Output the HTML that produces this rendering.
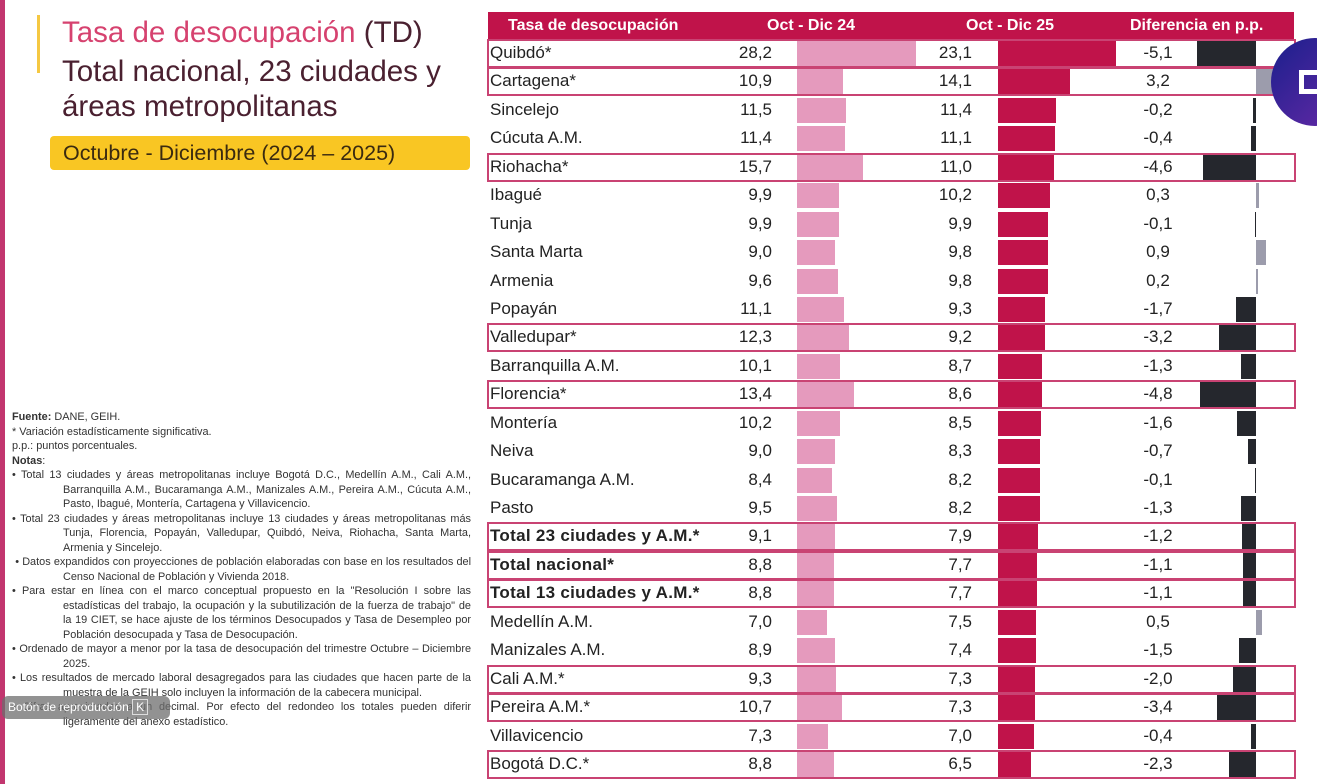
<!DOCTYPE html><html><head><meta charset="utf-8"><style>
body{margin:0;width:1317px;height:784px;background:#fff;position:relative;overflow:hidden;font-family:"Liberation Sans",sans-serif;color:#222}
.strip{position:absolute;left:0;top:0;width:5px;height:784px;background:#c2366f}
.t{position:absolute;left:62px;font-size:29.5px;color:#4a2030;white-space:nowrap}
.hd{position:absolute;top:12px;left:488px;width:806px;height:27px;background:#c0134a;color:#fff;font-weight:bold;font-size:16px;line-height:27px}
.hd span{position:absolute}
.r{position:absolute;left:0;width:1317px;height:28px;font-size:17px;line-height:28px}
.r span{position:absolute}
.n{left:490px}
.a{right:545px}
.c{right:345px}
.d{left:1120px;width:76px;text-align:center}
.r i{position:absolute;top:2px;height:25px}
.b1{left:797px;background:#e59abd}
.b2{left:998px;background:#c0134a}
.dn{right:61px;background:#25272d}
.dp{left:1256px;background:#9c9cac}
.h::after{content:'';position:absolute;left:487px;top:0;width:809px;height:29px;border:2px solid #c94373;box-sizing:border-box}
.bd .n{font-weight:bold;letter-spacing:0.3px}
.notes{position:absolute;left:12px;top:410px;width:459px;font-size:10.9px;line-height:14.5px;color:#333;text-align:justify}
.notes p{margin:0}
.notes .b{padding-left:51px;text-indent:-51px}
</style></head><body>
<div class="strip"></div>
<div style="position:absolute;left:37px;top:15px;width:3px;height:58px;background:#f5c842"></div>
<div class="t" style="top:16px"><span style="color:#d6426f">Tasa de desocupación</span> (TD)</div>
<div class="t" style="top:55px">Total nacional, 23 ciudades y</div>
<div class="t" style="top:90px">áreas metropolitanas</div>
<div style="position:absolute;left:50px;top:136px;width:420px;height:34px;background:#f9c623;border-radius:4px;font-size:21.5px;line-height:34px;color:#3a2a10;padding-left:13px;box-sizing:border-box">Octubre - Diciembre (2024 – 2025)</div>
<div class="notes">
<p><b>Fuente:</b> DANE, GEIH.</p>
<p>* Variación estadísticamente significativa.</p>
<p>p.p.: puntos porcentuales.</p>
<p><b>Notas</b>:</p>
<p class="b">• Total 13 ciudades y áreas metropolitanas incluye Bogotá D.C., Medellín A.M., Cali A.M., Barranquilla A.M., Bucaramanga A.M., Manizales A.M., Pereira A.M., Cúcuta A.M., Pasto, Ibagué, Montería, Cartagena y Villavicencio.</p>
<p class="b">• Total 23 ciudades y áreas metropolitanas incluye 13 ciudades y áreas metropolitanas más Tunja, Florencia, Popayán, Valledupar, Quibdó, Neiva, Riohacha, Santa Marta, Armenia y Sincelejo.</p>
<p class="b">&nbsp;• Datos expandidos con proyecciones de población elaboradas con base en los resultados del Censo Nacional de Población y Vivienda 2018.</p>
<p class="b">• Para estar en línea con el marco conceptual propuesto en la "Resolución I sobre las estadísticas del trabajo, la ocupación y la subutilización de la fuerza de trabajo" de la 19 CIET, se hace ajuste de los términos Desocupados y Tasa de Desempleo por Población desocupada y Tasa de Desocupación.</p>
<p class="b">• Ordenado de mayor a menor por la tasa de desocupación del trimestre Octubre – Diciembre 2025.</p>
<p class="b">• Los resultados de mercado laboral desagregados para las ciudades que hacen parte de la muestra de la GEIH solo incluyen la información de la cabecera municipal.</p>
<p class="b">• Cifras aproximadas a un decimal. Por efecto del redondeo los totales pueden diferir ligeramente del anexo estadístico.</p>
</div>
<div style="position:absolute;left:2px;top:696px;width:168px;height:23px;background:rgba(110,110,110,0.75);border-radius:6px;color:#fff;font-size:12px;line-height:23px;padding-left:6px;box-sizing:border-box">Botón de reproducción <span style="border:1px solid #ddd;padding:0 3px">K</span></div>
<div class="hd"><span style="left:20px">Tasa de desocupación</span><span style="left:279px">Oct - Dic 24</span><span style="left:478px">Oct - Dic 25</span><span style="left:642px">Diferencia en p.p.</span></div>

<div class="r h" style="top:39px"><span class="n">Quibdó*</span><span class="a">28,2</span><i class="b1" style="width:119px"></i><span class="c">23,1</span><i class="b2" style="width:118px"></i><span class="d">-5,1</span><i class="dn" style="width:59px"></i></div>
<div class="r h" style="top:67px"><span class="n">Cartagena*</span><span class="a">10,9</span><i class="b1" style="width:46px"></i><span class="c">14,1</span><i class="b2" style="width:72px"></i><span class="d">3,2</span><i class="dp" style="width:37px"></i></div>
<div class="r" style="top:96px"><span class="n">Sincelejo</span><span class="a">11,5</span><i class="b1" style="width:49px"></i><span class="c">11,4</span><i class="b2" style="width:58px"></i><span class="d">-0,2</span><i class="dn" style="width:3px"></i></div>
<div class="r" style="top:124px"><span class="n">Cúcuta A.M.</span><span class="a">11,4</span><i class="b1" style="width:48px"></i><span class="c">11,1</span><i class="b2" style="width:57px"></i><span class="d">-0,4</span><i class="dn" style="width:5px"></i></div>
<div class="r h" style="top:153px"><span class="n">Riohacha*</span><span class="a">15,7</span><i class="b1" style="width:66px"></i><span class="c">11,0</span><i class="b2" style="width:56px"></i><span class="d">-4,6</span><i class="dn" style="width:53px"></i></div>
<div class="r" style="top:181px"><span class="n">Ibagué</span><span class="a">9,9</span><i class="b1" style="width:42px"></i><span class="c">10,2</span><i class="b2" style="width:52px"></i><span class="d">0,3</span><i class="dp" style="width:3px"></i></div>
<div class="r" style="top:210px"><span class="n">Tunja</span><span class="a">9,9</span><i class="b1" style="width:42px"></i><span class="c">9,9</span><i class="b2" style="width:50px"></i><span class="d">-0,1</span><i class="dn" style="width:1px"></i></div>
<div class="r" style="top:238px"><span class="n">Santa Marta</span><span class="a">9,0</span><i class="b1" style="width:38px"></i><span class="c">9,8</span><i class="b2" style="width:50px"></i><span class="d">0,9</span><i class="dp" style="width:10px"></i></div>
<div class="r" style="top:267px"><span class="n">Armenia</span><span class="a">9,6</span><i class="b1" style="width:41px"></i><span class="c">9,8</span><i class="b2" style="width:50px"></i><span class="d">0,2</span><i class="dp" style="width:2px"></i></div>
<div class="r" style="top:295px"><span class="n">Popayán</span><span class="a">11,1</span><i class="b1" style="width:47px"></i><span class="c">9,3</span><i class="b2" style="width:47px"></i><span class="d">-1,7</span><i class="dn" style="width:20px"></i></div>
<div class="r h" style="top:323px"><span class="n">Valledupar*</span><span class="a">12,3</span><i class="b1" style="width:52px"></i><span class="c">9,2</span><i class="b2" style="width:47px"></i><span class="d">-3,2</span><i class="dn" style="width:37px"></i></div>
<div class="r" style="top:352px"><span class="n">Barranquilla A.M.</span><span class="a">10,1</span><i class="b1" style="width:43px"></i><span class="c">8,7</span><i class="b2" style="width:44px"></i><span class="d">-1,3</span><i class="dn" style="width:15px"></i></div>
<div class="r h" style="top:380px"><span class="n">Florencia*</span><span class="a">13,4</span><i class="b1" style="width:57px"></i><span class="c">8,6</span><i class="b2" style="width:44px"></i><span class="d">-4,8</span><i class="dn" style="width:56px"></i></div>
<div class="r" style="top:409px"><span class="n">Montería</span><span class="a">10,2</span><i class="b1" style="width:43px"></i><span class="c">8,5</span><i class="b2" style="width:43px"></i><span class="d">-1,6</span><i class="dn" style="width:19px"></i></div>
<div class="r" style="top:437px"><span class="n">Neiva</span><span class="a">9,0</span><i class="b1" style="width:38px"></i><span class="c">8,3</span><i class="b2" style="width:42px"></i><span class="d">-0,7</span><i class="dn" style="width:8px"></i></div>
<div class="r" style="top:466px"><span class="n">Bucaramanga A.M.</span><span class="a">8,4</span><i class="b1" style="width:35px"></i><span class="c">8,2</span><i class="b2" style="width:42px"></i><span class="d">-0,1</span><i class="dn" style="width:1px"></i></div>
<div class="r" style="top:494px"><span class="n">Pasto</span><span class="a">9,5</span><i class="b1" style="width:40px"></i><span class="c">8,2</span><i class="b2" style="width:42px"></i><span class="d">-1,3</span><i class="dn" style="width:15px"></i></div>
<div class="r h bd" style="top:522px"><span class="n">Total 23 ciudades y A.M.*</span><span class="a">9,1</span><i class="b1" style="width:38px"></i><span class="c">7,9</span><i class="b2" style="width:40px"></i><span class="d">-1,2</span><i class="dn" style="width:14px"></i></div>
<div class="r h bd" style="top:551px"><span class="n">Total nacional*</span><span class="a">8,8</span><i class="b1" style="width:37px"></i><span class="c">7,7</span><i class="b2" style="width:39px"></i><span class="d">-1,1</span><i class="dn" style="width:13px"></i></div>
<div class="r h bd" style="top:579px"><span class="n">Total 13 ciudades y A.M.*</span><span class="a">8,8</span><i class="b1" style="width:37px"></i><span class="c">7,7</span><i class="b2" style="width:39px"></i><span class="d">-1,1</span><i class="dn" style="width:13px"></i></div>
<div class="r" style="top:608px"><span class="n">Medellín A.M.</span><span class="a">7,0</span><i class="b1" style="width:30px"></i><span class="c">7,5</span><i class="b2" style="width:38px"></i><span class="d">0,5</span><i class="dp" style="width:6px"></i></div>
<div class="r" style="top:636px"><span class="n">Manizales A.M.</span><span class="a">8,9</span><i class="b1" style="width:38px"></i><span class="c">7,4</span><i class="b2" style="width:38px"></i><span class="d">-1,5</span><i class="dn" style="width:17px"></i></div>
<div class="r h" style="top:665px"><span class="n">Cali A.M.*</span><span class="a">9,3</span><i class="b1" style="width:39px"></i><span class="c">7,3</span><i class="b2" style="width:37px"></i><span class="d">-2,0</span><i class="dn" style="width:23px"></i></div>
<div class="r h" style="top:693px"><span class="n">Pereira A.M.*</span><span class="a">10,7</span><i class="b1" style="width:45px"></i><span class="c">7,3</span><i class="b2" style="width:37px"></i><span class="d">-3,4</span><i class="dn" style="width:39px"></i></div>
<div class="r" style="top:722px"><span class="n">Villavicencio</span><span class="a">7,3</span><i class="b1" style="width:31px"></i><span class="c">7,0</span><i class="b2" style="width:36px"></i><span class="d">-0,4</span><i class="dn" style="width:5px"></i></div>
<div class="r h" style="top:750px"><span class="n">Bogotá D.C.*</span><span class="a">8,8</span><i class="b1" style="width:37px"></i><span class="c">6,5</span><i class="b2" style="width:33px"></i><span class="d">-2,3</span><i class="dn" style="width:27px"></i></div>

<div style="position:absolute;left:1271px;top:38px;width:88px;height:88px;border-radius:50%;background:linear-gradient(135deg,#1a1f8c,#6a2aa8)"></div>
<div style="position:absolute;left:1299px;top:70px;width:18px;height:24px;border:5px solid #fff;border-right:none;box-sizing:border-box"></div>
</body></html>
